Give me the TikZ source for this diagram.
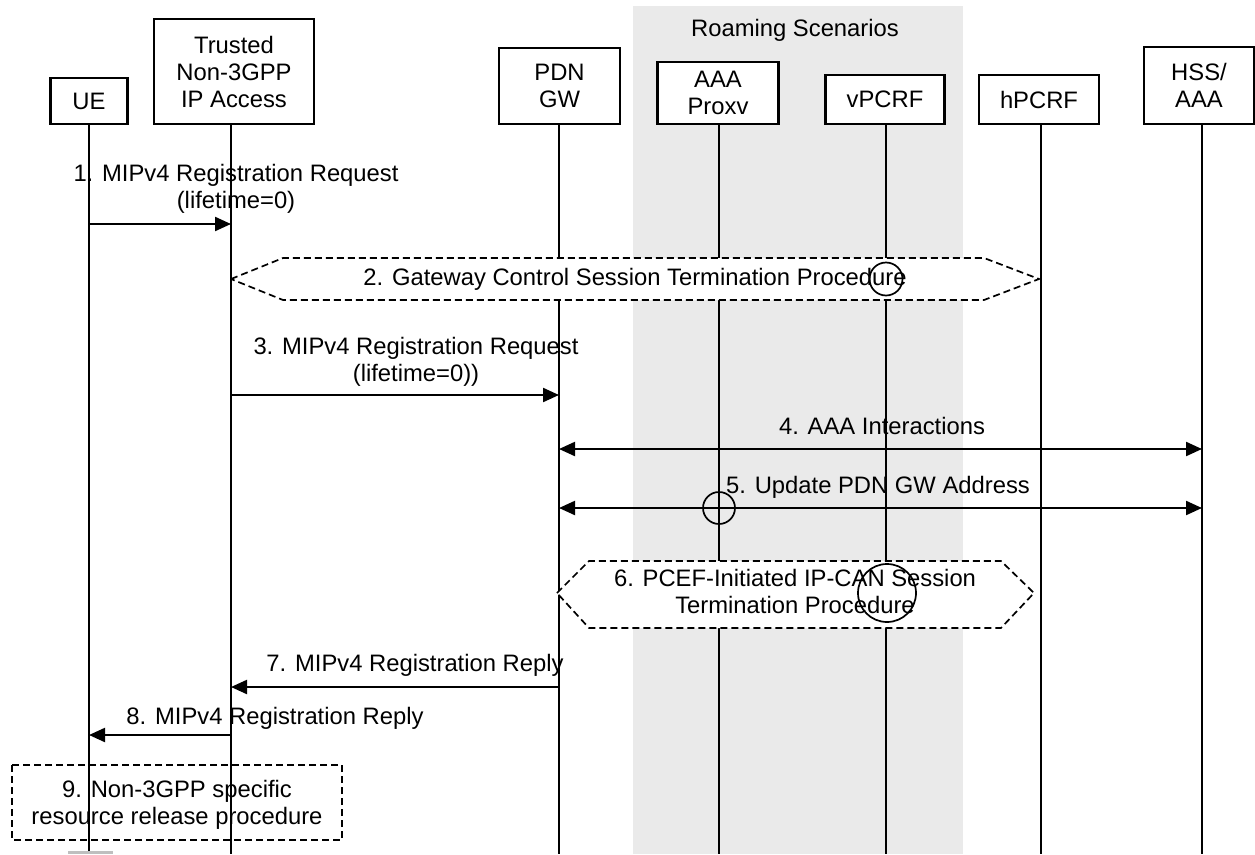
\documentclass[tikz,border=0pt]{standalone}
\usepackage{fontspec}
\setmainfont{Liberation Sans}
\usetikzlibrary{arrows.meta}
\definecolor{roam}{RGB}{234,234,234}
\tikzset{
  ent/.style={draw=black, line width=2.2pt, fill=white, inner sep=0pt, align=center, font=\fontsize{23.8}{27}\selectfont},
  life/.style={line width=1.7pt},
  msg/.style={line width=2.2pt, -{Triangle[length=16pt,width=14pt]}},
  bmsg/.style={line width=2.2pt, {Triangle[length=16pt,width=14pt]}-{Triangle[length=16pt,width=14pt]}},
  lbl/.style={inner sep=0pt, align=center, font=\fontsize{23.8}{27}\selectfont},
  proc/.style={draw=black, line width=1.7pt, dash pattern=on 7pt off 4pt},
  ring/.style={draw=black, line width=1.7pt},
}
\begin{document}
\begin{tikzpicture}[x=1pt,y=-1pt]
\useasboundingbox (0,0) rectangle (1255,854);
% roaming region
\fill[roam] (633,6) rectangle (963,854);
\node[lbl] (roamlbl) at (795,30) {Roaming Scenarios};

% entities
\node[ent, minimum width=77pt, minimum height=46pt] (ue) at (89,101) {UE};
\node[ent, minimum width=160pt, minimum height=105pt] (tr) at (234,71.5) {Trusted\\Non-3GPP\\IP Access};
\node[ent, minimum width=121pt, minimum height=76pt] (pdn) at (559.5,86) {PDN\\GW};
\node[ent, minimum width=121pt, minimum height=62pt] (aaa) at (718,93) {AAA\\Proxv};
\node[ent, minimum width=119pt, minimum height=49pt] (vp) at (885,99.5) {vPCRF};
\node[ent, minimum width=120pt, minimum height=49pt] (hp) at (1039,99.5) {hPCRF};
\node[ent, minimum width=110pt, minimum height=77pt] (hss) at (1199,85.5) {HSS/\\AAA};

% lifeline bottoms
\coordinate (ueb) at (89,854);
\coordinate (trb) at (231,854);
\coordinate (pdnb) at (559,854);
\coordinate (aaab) at (719,854);
\coordinate (vpb) at (886,854);
\coordinate (hpb) at (1041,854);
\coordinate (hssb) at (1202,854);

\draw[life] (ue.south -| ueb) -- (ueb);
\draw[life] (tr.south -| trb) -- (trb);
\draw[life] (pdn.south -| pdnb) -- (pdnb);
\draw[life] (aaa.south -| aaab) -- (aaab);
\draw[life] (vp.south -| vpb) -- (vpb);
\draw[life] (hp.south -| hpb) -- (hpb);
\draw[life] (hss.south -| hssb) -- (hssb);

% 1
\coordinate (m1a) at (89,224);
\coordinate (m1b) at (231,224);
\draw[msg] (m1a) -- (m1b);
\node[lbl] (l1) at (236,189) {1. MIPv4 Registration Request\\(lifetime=0)};

% 2 hexagon
\draw[proc, fill=white] (231,279) -- (283,258) -- (984,258) -- (1039,279) -- (984,300) -- (283,300) -- cycle;
\node[lbl] (l2) at (635,279) {2. Gateway Control Session Termination Procedure};
\draw[ring] (886,279) circle (16.5pt);

% 3
\coordinate (m3a) at (231,395);
\coordinate (m3b) at (559,395);
\draw[msg] (m3a) -- (m3b);
\node[lbl] (l3) at (416,361.5) {3. MIPv4 Registration Request\\(lifetime=0))};

% 4
\coordinate (m4a) at (559,449);
\coordinate (m4b) at (1202,449);
\draw[bmsg] (m4a) -- (m4b);
\node[lbl] (l4) at (882,426) {4. AAA Interactions};

% 5
\coordinate (m5a) at (559,508);
\coordinate (m5b) at (1202,508);
\draw[bmsg] (m5a) -- (m5b);
\node[lbl] (l5) at (878,487) {5. Update PDN GW Address};
\draw[ring] (719,508) circle (16pt);

% 6 hexagon
\draw[proc, fill=white] (557,593) -- (589,561) -- (1001,561) -- (1034,593) -- (1001,628) -- (589,628) -- cycle;
\node[lbl] (l6) at (795,591.5) {6. PCEF-Initiated IP-CAN Session\\Termination Procedure};
\draw[ring] (887,593) circle (29pt);

% 7
\coordinate (m7a) at (559,687);
\coordinate (m7b) at (231,687);
\draw[msg] (m7a) -- (m7b);
\node[lbl] (l7) at (415,665) {7. MIPv4 Registration Reply};

% 8
\coordinate (m8a) at (231,735);
\coordinate (m8b) at (89,735);
\draw[msg] (m8a) -- (m8b);
\node[lbl] (l8) at (275,718) {8. MIPv4 Registration Reply};

% 9
\draw[proc] (12,765) rectangle (342,840);
\node[lbl] (l9) at (177,805) {9. Non-3GPP specific\\resource release procedure};

% cut-off item at bottom
\fill[black!25] (68,851) rectangle (113,854);
\end{tikzpicture}
\end{document}
